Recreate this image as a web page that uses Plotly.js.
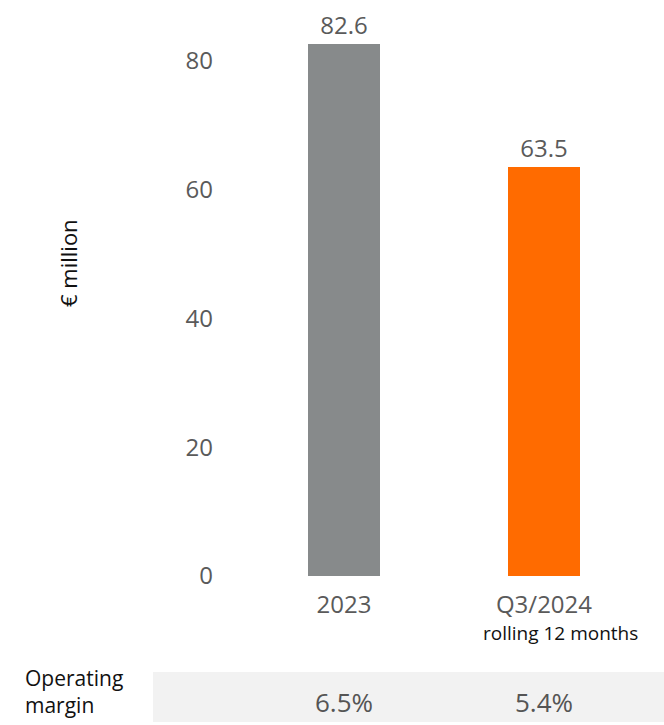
<!DOCTYPE html>
<html>
<head>
<meta charset="utf-8">
<script src="https://cdn.plot.ly/plotly-3.0.1.min.js"></script>
<style>html,body{margin:0;padding:0;background:#fff;}#chart{width:664px;height:725px;}</style>
</head>
<body>
<div id="chart"></div>
<script>
const categories = ["2023", "Q3/2024"];
const tickLabels = ["2023", "Q3/2024"];
const subLabels = ["", "rolling 12 months"];
const ebitValues = [82.6, 63.5];
const valueLabels = ["82.6", "63.5"];
const marginLabels = ["6.5%", "5.4%"];
const barColors = ["#878a8b", "#ff6b00"];
const yTicks = [0, 20, 40, 60, 80];
const rowLabel = "Operating<br>margin";
const yTitle = "€ million";

const FONT = "Open Sans, Noto Sans, sans-serif";
const W = 664, H = 725;
const L = 220, R = 20, T = 22, B = 149;
const plotH = H - T - B;
const py = (pix) => (H - B - pix) / plotH;        // pixel y -> paper y
const px = (pix) => (pix - L) / (W - L - R);      // pixel x -> paper x

const trace = {
  type: "bar",
  x: [0, 1],
  y: ebitValues,
  marker: {color: barColors, line: {width: 0}},
  width: 0.36,
  text: valueLabels,
  textposition: "outside",
  textfont: {family: FONT, size: 24, color: "#5a5a5a"},
  cliponaxis: false,
  hoverinfo: "none"
};

const annotations = [];
categories.forEach((c, i) => {
  if (subLabels[i]) {
    annotations.push({x: i, xref: "x", y: py(633), yref: "paper", text: subLabels[i],
      showarrow: false, xanchor: "center", yanchor: "middle", xshift: 16,
      font: {family: FONT, size: 19, color: "#111"}});
  }
  annotations.push({x: i, xref: "x", y: py(702), yref: "paper", text: marginLabels[i],
    showarrow: false, xanchor: "center", yanchor: "middle",
    font: {family: FONT, size: 26, color: "#555"}});
});
annotations.push({x: px(23), xref: "paper", y: py(691), yref: "paper", text: rowLabel,
  showarrow: false, xanchor: "left", yanchor: "middle", align: "left",
  font: {family: FONT, size: 21, color: "#111"}});
annotations.push({x: px(68), xref: "paper", y: py(263), yref: "paper", text: yTitle,
  showarrow: false, textangle: -90, xanchor: "center", yanchor: "middle",
  font: {family: FONT, size: 22, color: "#111"}});

const layout = {
  width: W, height: H,
  margin: {l: L, r: R, t: T, b: B, pad: 0},
  paper_bgcolor: "#fff", plot_bgcolor: "#fff",
  showlegend: false,
  xaxis: {range: [-0.62, 1.5], tickvals: [0, 1], ticktext: tickLabels,
    showgrid: false, zeroline: false, showline: false, ticks: "",
    ticklabelstandoff: 12,
    tickfont: {family: FONT, size: 24, color: "#5a5a5a"}, fixedrange: true},
  yaxis: {range: [0, 86], tickvals: yTicks, ticktext: yTicks.map(String),
    showgrid: false, zeroline: false, showline: false, ticks: "",
    ticklabelstandoff: 6,
    tickfont: {family: FONT, size: 24, color: "#5a5a5a"}, fixedrange: true},
  shapes: [{type: "rect", xref: "paper", yref: "paper",
    x0: px(153), x1: px(670), y0: py(722), y1: py(672),
    fillcolor: "#f2f2f2", line: {width: 0}, layer: "below"}],
  annotations: annotations
};

Plotly.newPlot("chart", [trace], layout, {displayModeBar: false, staticPlot: true});
</script>
</body>
</html>
